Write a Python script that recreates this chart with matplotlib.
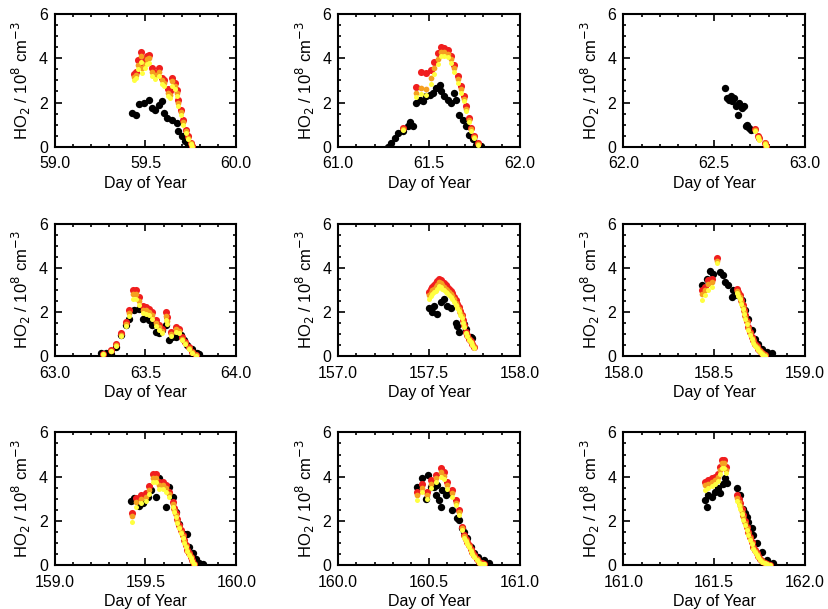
import numpy as np
import matplotlib
matplotlib.use("Agg")
import matplotlib.pyplot as plt
from matplotlib.ticker import MultipleLocator, FormatStrFormatter

plt.rcParams["font.family"] = ["Liberation Sans", "DejaVu Sans"]

# Panel start days (x range = start .. start + 1)
day_start = [59, 61, 62, 63, 157, 158, 159, 160, 161]

# --- Day 59 ---
obs_t_59 = [59.427, 59.445, 59.464, 59.49, 59.518, 59.536, 59.555, 59.573, 59.59, 59.6,
            59.618, 59.645, 59.673, 59.68, 59.7, 59.718, 59.736, 59.755]
obs_v_59 = [1.53, 1.45, 1.95, 1.98, 2.1, 1.75, 1.68, 1.9, 2.05, 1.53,
            1.3, 1.2, 1.08, 0.7, 0.48, 0.25, 0.06, 0.0]
mod_t_59 = [59.436, 59.445, 59.46, 59.473, 59.482, 59.495, 59.51, 59.52, 59.536, 59.555,
            59.573, 59.59, 59.60, 59.624, 59.635, 59.645, 59.66, 59.673, 59.68, 59.696,
            59.709, 59.724, 59.736, 59.75, 59.758]
red_59 = [3.3, 3.4, 3.9, 4.3, 3.7, 3.9, 4.08, 4.15, 3.55, 3.35, 3.55, 3.1, 3.0, 2.6, 2.5,
          3.1, 2.9, 2.58, 2.13, 1.68, 1.23, 0.78, 0.48, 0.18, 0.03]
orange_59 = [3.15, 3.25, 3.7, 4.1, 3.55, 3.75, 3.95, 4.0, 3.4, 3.25, 3.4, 3.0, 2.9, 2.45, 2.35,
             2.95, 2.75, 2.45, 2.0, 1.55, 1.1, 0.7, 0.4, 0.15, 0.02]
yellow_59 = [3.0, 3.1, 3.5, 3.85, 3.35, 3.55, 3.75, 3.8, 3.2, 3.05, 3.2, 2.85, 2.75, 2.3, 2.2,
             2.75, 2.6, 2.3, 1.85, 1.45, 1.0, 0.62, 0.35, 0.12, 0.0]

# --- Day 61 ---
obs_t_61 = [61.274, 61.29, 61.31, 61.329, 61.357, 61.384, 61.397, 61.41, 61.43, 61.448,
            61.466, 61.484, 61.503, 61.52, 61.54, 61.558, 61.567, 61.585, 61.603, 61.62,
            61.64, 61.65, 61.667, 61.686, 61.704, 61.722, 61.74, 61.76, 61.786]
obs_v_61 = [0.0, 0.18, 0.4, 0.63, 0.7, 0.96, 1.1, 0.96, 2.0, 2.13,
            2.05, 2.28, 2.35, 2.43, 2.65, 2.8, 2.5, 2.28, 2.13, 2.0,
            2.43, 2.13, 1.45, 1.23, 0.93, 0.55, 0.33, 0.1, 0.03]
mod_t_61 = [61.357, 61.43, 61.457, 61.484, 61.512, 61.53, 61.548, 61.567, 61.585, 61.603,
            61.62, 61.64, 61.658, 61.676, 61.69, 61.704, 61.718, 61.73, 61.75, 61.768]
red_61 = [0.85, 2.7, 3.4, 3.33, 3.48, 3.85, 4.23, 4.53, 4.45, 4.38,
          4.08, 3.7, 3.18, 2.73, 2.28, 1.83, 1.3, 0.85, 0.48, 0.15]
orange_61 = [0.8, 2.45, 2.65, 2.6, 3.1, 3.55, 3.95, 4.3, 4.3, 4.2,
             3.95, 3.55, 3.05, 2.6, 2.15, 1.7, 1.2, 0.8, 0.43, 0.12]
yellow_61 = [0.75, 2.25, 2.4, 2.35, 2.85, 3.3, 3.75, 4.1, 4.1, 4.05,
             3.8, 3.4, 2.9, 2.45, 2.05, 1.6, 1.1, 0.72, 0.38, 0.1]

# --- Day 62 ---
obs_t_62 = [62.562, 62.572, 62.581, 62.59, 62.6, 62.609, 62.618, 62.633, 62.637, 62.646,
            62.655, 62.665, 62.674, 62.683, 62.693, 62.702]
obs_v_62 = [2.65, 2.2, 2.13, 2.28, 2.05, 2.2, 1.83, 1.45, 1.98, 1.83,
            1.75, 1.83, 0.96, 1.0, 0.85, 0.78]
mod_t_62 = [62.726, 62.739, 62.749, 62.782, 62.786]
red_62 = [0.8, 0.5, 0.38, 0.17, 0.04]
orange_62 = [0.75, 0.46, 0.35, 0.15, 0.03]
yellow_62 = [0.7, 0.42, 0.32, 0.12, 0.02]

# --- Day 63 ---
obs_t_63 = [63.255, 63.283, 63.31, 63.338, 63.365, 63.392, 63.41, 63.438, 63.465, 63.484,
            63.502, 63.52, 63.538, 63.556, 63.575, 63.593, 63.611, 63.63, 63.648, 63.666,
            63.693, 63.712, 63.73, 63.757, 63.785, 63.794]
obs_v_63 = [0.15, 0.15, 0.12, 0.42, 0.95, 1.4, 1.7, 2.08, 2.15, 1.7,
            1.85, 1.63, 1.4, 1.1, 1.03, 1.18, 1.4, 0.72, 0.87, 0.87,
            0.95, 0.72, 0.5, 0.35, 0.15, 0.12]
mod_t_63 = [63.265, 63.31, 63.338, 63.365, 63.392, 63.41, 63.429, 63.447, 63.465, 63.484,
            63.502, 63.52, 63.538, 63.556, 63.575, 63.593, 63.611, 63.62, 63.639, 63.666,
            63.684, 63.702, 63.72, 63.739, 63.757, 63.776]
red_63 = [0.12, 0.27, 0.57, 1.06, 1.55, 2.08, 3.0, 3.0, 2.68, 2.26, 2.23, 2.15, 2.0, 1.63,
          1.4, 1.25, 2.0, 1.78, 1.1, 1.33, 1.25, 0.87, 0.65, 0.42, 0.2, 0.05]
orange_63 = [0.1, 0.25, 0.52, 0.98, 1.45, 1.95, 2.8, 2.8, 2.5, 2.1, 2.08, 2.0, 1.85, 1.5,
             1.3, 1.15, 1.8, 1.6, 1.0, 1.22, 1.15, 0.8, 0.6, 0.38, 0.18, 0.04]
yellow_63 = [0.08, 0.22, 0.48, 0.9, 1.35, 1.8, 2.6, 2.6, 2.3, 1.95, 1.92, 1.85, 1.7, 1.38,
             1.2, 1.05, 1.62, 1.45, 0.92, 1.1, 1.05, 0.72, 0.55, 0.35, 0.15, 0.03]

# --- Day 157 ---
obs_t_157 = [157.5, 157.518, 157.528, 157.546, 157.564, 157.583, 157.601, 157.62, 157.647,
             157.656, 157.665, 157.693, 157.702, 157.73, 157.739]
obs_v_157 = [2.16, 2.0, 2.26, 1.93, 2.46, 2.61, 2.26, 2.2, 1.5,
             1.36, 1.1, 1.48, 1.25, 0.87, 0.84]
mod_t_157 = [157.5, 157.509, 157.518, 157.528, 157.537, 157.546, 157.555, 157.564, 157.574,
             157.583, 157.592, 157.601, 157.61, 157.62, 157.629, 157.638, 157.647, 157.656,
             157.665, 157.673, 157.68, 157.687, 157.693, 157.702, 157.711, 157.72, 157.73,
             157.739, 157.748]
red_157 = [2.91, 3.02, 3.14, 3.22, 3.29, 3.4, 3.51, 3.45, 3.36, 3.3, 3.21, 3.15, 3.06, 2.95,
           2.84, 2.7, 2.53, 2.38, 2.23, 2.05, 1.86, 1.62, 1.4, 1.1, 0.95, 0.8, 0.68, 0.57, 0.42]
orange_157 = [2.76, 2.87, 2.98, 3.06, 3.13, 3.24, 3.34, 3.29, 3.2, 3.14, 3.06, 3.0, 2.92, 2.82,
              2.71, 2.58, 2.42, 2.28, 2.13, 1.96, 1.8, 1.57, 1.36, 1.07, 0.92, 0.77, 0.65, 0.55, 0.4]
yellow_157 = [2.6, 2.71, 2.82, 2.9, 2.96, 3.06, 3.16, 3.12, 3.04, 2.98, 2.9, 2.85, 2.77, 2.68,
              2.58, 2.46, 2.31, 2.18, 2.04, 1.88, 1.73, 1.52, 1.32, 1.04, 0.9, 0.74, 0.63, 0.53, 0.38]

# --- Day 158 ---
obs_t_158 = [158.431, 158.459, 158.477, 158.495, 158.532, 158.55, 158.56, 158.578, 158.596,
             158.606, 158.624, 158.651, 158.67, 158.688, 158.706, 158.725, 158.743, 158.761,
             158.789, 158.817]
obs_v_158 = [3.21, 3.51, 3.86, 3.74, 3.82, 3.66, 3.36, 3.21, 2.68,
             3.0, 2.76, 2.53, 2.08, 1.7, 1.18, 0.8, 0.57, 0.35, 0.2, 0.15]
mod_t_158 = [158.431, 158.45, 158.468, 158.486, 158.514, 158.624, 158.633, 158.642, 158.65,
             158.657, 158.664, 158.67, 158.679, 158.688, 158.697, 158.706, 158.716, 158.725,
             158.734, 158.743, 158.752, 158.761, 158.77, 158.78]
red_158 = [2.98, 3.14, 3.44, 3.51, 4.42, 3.02, 2.9, 2.76, 2.55, 2.3, 2.07, 1.85, 1.6, 1.33,
           1.1, 0.87, 0.72, 0.57, 0.45, 0.35, 0.25, 0.15, 0.09, 0.05]
orange_158 = [2.8, 2.98, 3.25, 3.35, 4.3, 2.95, 2.82, 2.68, 2.47, 2.22, 2.0, 1.78, 1.53, 1.27,
              1.04, 0.82, 0.67, 0.53, 0.41, 0.31, 0.22, 0.13, 0.07, 0.04]
yellow_158 = [2.55, 2.75, 3.0, 3.15, 4.2, 2.85, 2.72, 2.58, 2.38, 2.14, 1.92, 1.7, 1.46, 1.2,
              0.98, 0.77, 0.62, 0.48, 0.37, 0.27, 0.18, 0.1, 0.05, 0.02]

# --- Day 159 ---
obs_t_159 = [159.42, 159.439, 159.466, 159.484, 159.512, 159.53, 159.558, 159.576, 159.612,
             159.627, 159.649, 159.667, 159.686, 159.713, 159.726, 159.74, 159.759, 159.777,
             159.795, 159.817]
obs_v_159 = [2.91, 3.02, 2.67, 2.79, 3.09, 3.39, 3.09, 3.92, 2.64,
             3.51, 3.09, 2.41, 1.88, 1.43, 1.4, 0.83, 0.53, 0.26, 0.11, 0.05]
mod_t_159 = [159.426, 159.448, 159.475, 159.503, 159.521, 159.539, 159.558, 159.576, 159.594,
             159.612, 159.631, 159.649, 159.658, 159.667, 159.676, 159.686, 159.695, 159.704,
             159.713, 159.722, 159.731, 159.74, 159.748, 159.755, 159.768]
red_159 = [2.34, 3.02, 3.17, 3.24, 3.57, 4.14, 4.12, 3.77, 3.77, 3.62, 3.32, 2.87, 2.6, 2.34,
           2.08, 1.81, 1.58, 1.36, 1.13, 0.9, 0.7, 0.53, 0.38, 0.23, 0.05]
orange_159 = [2.2, 2.85, 3.0, 3.08, 3.4, 3.95, 3.95, 3.62, 3.62, 3.48, 3.2, 2.77, 2.51, 2.26,
              2.0, 1.74, 1.52, 1.3, 1.08, 0.86, 0.66, 0.5, 0.35, 0.2, 0.04]
yellow_159 = [1.96, 2.65, 2.8, 2.9, 3.2, 3.75, 3.75, 3.45, 3.45, 3.32, 3.06, 2.65, 2.4, 2.16,
              1.92, 1.66, 1.45, 1.24, 1.02, 0.8, 0.62, 0.46, 0.32, 0.18, 0.03]

# --- Day 160 ---
obs_t_160 = [160.436, 160.463, 160.482, 160.496, 160.509, 160.528, 160.537, 160.546, 160.555,
             160.564, 160.574, 160.592, 160.61, 160.629, 160.656, 160.665, 160.68, 160.693,
             160.711, 160.73, 160.748, 160.772, 160.803, 160.831]
obs_v_160 = [3.51, 3.92, 2.97, 4.07, 3.51, 3.51, 3.17, 3.62, 2.94,
             2.61, 3.39, 3.17, 3.24, 2.49, 2.11, 2.03, 1.66, 1.51,
             1.21, 0.83, 0.53, 0.38, 0.23, 0.08]
mod_t_160 = [160.436, 160.463, 160.491, 160.509, 160.537, 160.564, 160.583, 160.601, 160.629,
             160.647, 160.665, 160.68, 160.693, 160.702, 160.711, 160.72, 160.73, 160.739,
             160.748, 160.762, 160.776, 160.79, 160.803]
red_160 = [3.32, 3.69, 3.32, 3.85, 4.07, 4.37, 4.22, 3.77, 3.39, 2.94, 2.49, 1.73, 1.36, 1.2,
           1.06, 0.9, 0.75, 0.6, 0.45, 0.3, 0.15, 0.09, 0.05]
orange_160 = [3.15, 3.5, 3.18, 3.68, 3.92, 4.2, 4.05, 3.62, 3.25, 2.82, 2.38, 1.66, 1.3, 1.14,
              1.0, 0.85, 0.7, 0.56, 0.42, 0.27, 0.13, 0.07, 0.04]
yellow_160 = [2.95, 3.3, 3.0, 3.5, 3.75, 4.0, 3.88, 3.46, 3.1, 2.7, 2.28, 1.58, 1.22, 1.07,
              0.94, 0.8, 0.65, 0.52, 0.38, 0.24, 0.11, 0.06, 0.03]

# --- Day 161 ---
obs_t_161 = [161.45, 161.459, 161.468, 161.486, 161.505, 161.523, 161.532, 161.55, 161.56,
             161.569, 161.624, 161.642, 161.661, 161.67, 161.679, 161.688, 161.706, 161.716,
             161.734, 161.761, 161.789, 161.826]
obs_v_161 = [2.94, 2.64, 3.17, 3.09, 3.32, 3.47, 3.24, 3.69, 3.92,
             3.73, 3.47, 3.17, 2.56, 2.34, 2.19, 1.96, 1.66, 1.36,
             0.98, 0.6, 0.23, 0.08]
mod_t_161 = [161.45, 161.468, 161.486, 161.505, 161.523, 161.532, 161.545, 161.556, 161.565,
             161.627, 161.635, 161.642, 161.652, 161.661, 161.67, 161.679, 161.688, 161.697,
             161.706, 161.716, 161.725, 161.734, 161.743, 161.752, 161.766, 161.78, 161.793,
             161.807]
red_161 = [3.77, 3.85, 3.92, 4.0, 4.14, 4.45, 4.75, 4.75, 4.45, 3.17, 2.98, 2.79, 2.52, 2.26,
           2.0, 1.73, 1.5, 1.28, 1.05, 0.83, 0.67, 0.53, 0.41, 0.3, 0.2, 0.11, 0.05, 0.0]
orange_161 = [3.6, 3.68, 3.75, 3.85, 3.98, 4.3, 4.6, 4.6, 4.3, 3.05, 2.87, 2.68, 2.42, 2.17,
              1.92, 1.66, 1.44, 1.22, 1.0, 0.79, 0.64, 0.5, 0.38, 0.28, 0.18, 0.1, 0.04, 0.0]
yellow_161 = [3.4, 3.5, 3.58, 3.68, 3.8, 4.1, 4.4, 4.4, 4.15, 2.9, 2.73, 2.55, 2.3, 2.06,
              1.82, 1.57, 1.36, 1.15, 0.94, 0.74, 0.6, 0.46, 0.35, 0.25, 0.15, 0.08, 0.03, 0.0]

panels = [
    (obs_t_59, obs_v_59, mod_t_59, red_59, orange_59, yellow_59),
    (obs_t_61, obs_v_61, mod_t_61, red_61, orange_61, yellow_61),
    (obs_t_62, obs_v_62, mod_t_62, red_62, orange_62, yellow_62),
    (obs_t_63, obs_v_63, mod_t_63, red_63, orange_63, yellow_63),
    (obs_t_157, obs_v_157, mod_t_157, red_157, orange_157, yellow_157),
    (obs_t_158, obs_v_158, mod_t_158, red_158, orange_158, yellow_158),
    (obs_t_159, obs_v_159, mod_t_159, red_159, orange_159, yellow_159),
    (obs_t_160, obs_v_160, mod_t_160, red_160, orange_160, yellow_160),
    (obs_t_161, obs_v_161, mod_t_161, red_161, orange_161, yellow_161),
]

fig = plt.figure(figsize=(8.29, 6.09), dpi=100)

col_left = [0.066, 0.408, 0.752]
row_bottom = [0.759, 0.415, 0.072]
ax_w, ax_h = 0.219, 0.218

for i, (start, data) in enumerate(zip(day_start, panels)):
    obs_t, obs_v, mod_t, red, orange, yellow = data
    ax = fig.add_axes([col_left[i % 3], row_bottom[i // 3], ax_w, ax_h])

    ax.scatter(obs_t, obs_v, s=28, color="black", zorder=2, linewidths=0)
    ax.scatter(mod_t, red, s=26, color="#f01e1e", zorder=3, linewidths=0)
    ax.scatter(mod_t, orange, s=17, color="#f5a020", zorder=4, linewidths=0)
    ax.scatter(mod_t, yellow, s=13, color="#ffff40", zorder=5, linewidths=0)

    ax.set_xlim(start, start + 1)
    ax.set_ylim(0, 6)
    ax.xaxis.set_major_locator(MultipleLocator(0.5))
    ax.xaxis.set_minor_locator(MultipleLocator(0.1))
    ax.xaxis.set_major_formatter(FormatStrFormatter("%.1f"))
    ax.yaxis.set_major_locator(MultipleLocator(2))
    ax.yaxis.set_minor_locator(MultipleLocator(0.5))
    ax.tick_params(which="both", direction="in", top=True, right=True,
                   labelsize=11.5, width=1.2)
    ax.tick_params(which="major", length=5)
    ax.tick_params(which="minor", length=2.5)
    ax.tick_params(axis="x", which="major", pad=7)
    ax.tick_params(axis="y", which="major", pad=5)
    for sp in ax.spines.values():
        sp.set_linewidth(1.5)

    ax.set_xlabel("Day of Year", fontsize=11.5, labelpad=3)
    ax.set_ylabel("HO$_2$ / 10$^8$ cm$^{-3}$", fontsize=12, labelpad=4)

fig.savefig("out.png", dpi=100)
